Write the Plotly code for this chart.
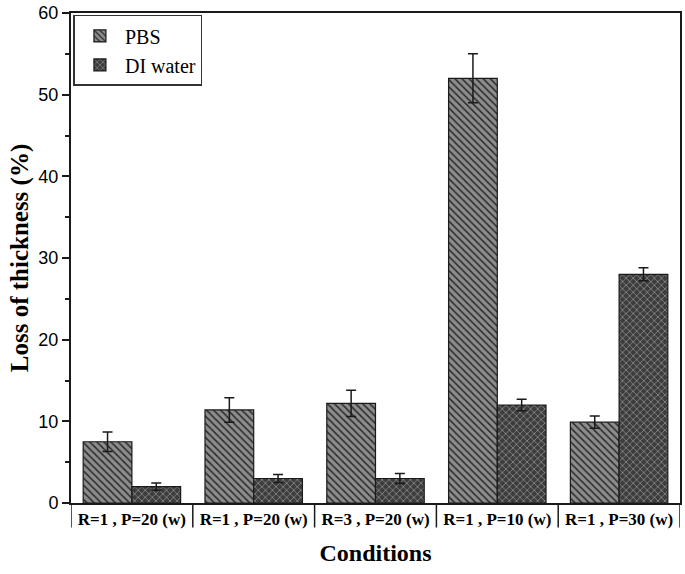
import plotly.graph_objects as go

COLOUR_PBS = "#8c8c8c"
COLOUR_DI = "#3d3d3d"
COLOUR_LINE = "#1a1a1a"

conditions = [
    "R=1 , P=20 (w)", "R=1 , P=20 (w)", "R=3 , P=20 (w)",
    "R=1 , P=10 (w)", "R=1 , P=30 (w)",
]
positions = [0, 1, 2, 3, 4]
pbs_loss = [7.5, 11.4, 12.2, 52.0, 9.9]
pbs_err = [1.2, 1.5, 1.6, 3.0, 0.75]
di_loss = [2.0, 3.0, 3.0, 12.0, 28.0]
di_err = [0.45, 0.5, 0.6, 0.7, 0.8]
y_ticks = [0, 10, 20, 30, 40, 50, 60]

TIMES = "Liberation Serif, Times New Roman, serif"


def bar_trace(name, values, errors, bg, fg, shape):
    return go.Bar(
        x=positions, y=values, name=name,
        marker={
            "color": bg,
            "line": {"color": COLOUR_LINE, "width": 1.2},
            "pattern": {
                "shape": shape, "bgcolor": bg, "fgcolor": fg,
                "size": 5, "solidity": 0.3, "fillmode": "replace",
            },
        },
        error_y={
            "type": "data", "array": errors, "visible": True,
            "color": COLOUR_LINE, "thickness": 1.5, "width": 5,
        },
    )


fig = go.Figure([
    bar_trace("PBS", pbs_loss, pbs_err, COLOUR_PBS, "#2b2b2b", "\\"),
    bar_trace("DI water", di_loss, di_err, COLOUR_DI, "#8a8a8a", "x"),
])

# separators between the condition labels below the axis
for i in range(len(positions) + 1):
    fig.add_shape(
        type="line", xref="x", yref="paper",
        x0=i - 0.5, x1=i - 0.5, y0=0, y1=-0.05,
        line={"color": COLOUR_LINE, "width": 1.5},
    )

fig.update_layout(
    width=685, height=574,
    margin={"l": 71, "r": 5, "t": 13, "b": 71},
    plot_bgcolor="white", paper_bgcolor="white",
    barmode="group", bargap=0.2, bargroupgap=0,
    font={"family": TIMES, "color": "black"},
    legend={
        "x": 0.004, "y": 0.996, "xanchor": "left", "yanchor": "top",
        "bordercolor": "#333333", "borderwidth": 1.5,
        "bgcolor": "white",
        "font": {"family": TIMES, "size": 20, "color": "black"},
        "tracegroupgap": 2, "itemwidth": 40,
    },
    showlegend=True,
)

fig.update_xaxes(
    range=[-0.5, 4.5], automargin=False,
    tickmode="array", tickvals=positions, ticktext=conditions,
    tickfont={"family": TIMES, "size": 17, "color": "black", "weight": "bold"},
    ticks="", ticklabelstandoff=0,
    showline=True, linecolor=COLOUR_LINE, linewidth=2, mirror=True,
    showgrid=False, zeroline=False,
    title={
        "text": "Conditions", "standoff": 16,
        "font": {"family": TIMES, "size": 24, "color": "black", "weight": "bold"},
    },
)

fig.update_yaxes(
    range=[0, 60], automargin=False,
    tickmode="array", tickvals=y_ticks,
    ticks="outside", ticklen=7, tickwidth=1.5, tickcolor=COLOUR_LINE,
    minor={"dtick": 5, "ticks": "outside", "ticklen": 4, "tickwidth": 1.5,
           "tickcolor": COLOUR_LINE},
    tickfont={"family": "Liberation Sans, Arial, sans-serif", "size": 18,
              "color": "black"},
    ticklabeloverflow="allow",
    showline=True, linecolor=COLOUR_LINE, linewidth=2, mirror=True,
    showgrid=False, zeroline=False,
    title={
        "text": "Loss of thickness (%)", "standoff": 3,
        "font": {"family": TIMES, "size": 25, "color": "black", "weight": "bold"},
    },
)

# drop the page's default body margin so the figure fills the window
fig.write_html(
    "out.html",
    config={"displayModeBar": False},
    post_script="document.body.style.margin = '0';",
)
